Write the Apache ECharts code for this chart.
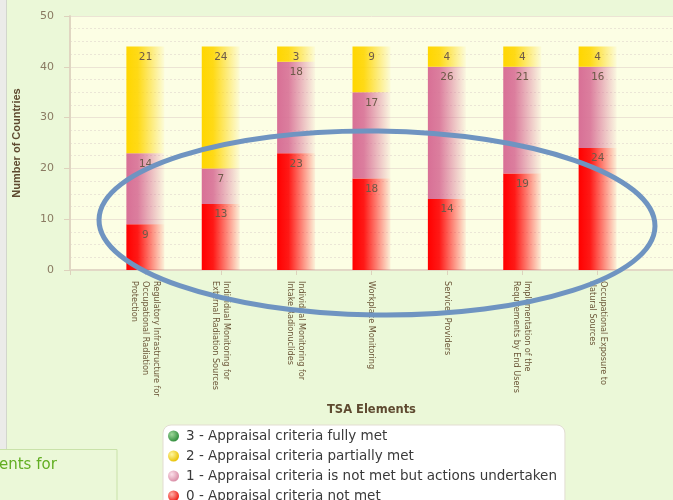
<!DOCTYPE html>
<html>
<head>
<meta charset="utf-8">
<script src="https://cdn.jsdelivr.net/npm/echarts@6/dist/echarts.min.js"></script>
<style>
  html, body { margin: 0; padding: 0; background: #ebf8d8; }
  #chart { width: 673px; height: 500px; }
</style>
</head>
<body>
<div id="chart"></div>
<script>
// TSA elements (x axis categories)
const categories = [
  'Regulatory Infrastructure for\nOccupational Radiation\nProtection',
  'Individual Monitoring for\nExternal Radiation Sources',
  'Individual Monitoring for\nIntake Radionuclides',
  'Workplace Monitoring',
  'Services Providers',
  'Implementation of the\nRequirements by End Users',
  'Occupational Exposure to\nNatural Sources'
];

// Number of countries per appraisal level
const fullyMet = [0, 0, 0, 0, 0, 0, 0];
const partiallyMet = [21, 24, 3, 9, 4, 4, 4];
const notMetActions = [14, 7, 18, 17, 26, 21, 16];
const notMet = [9, 13, 23, 18, 14, 19, 24];

const seriesNames = [
  '3 - Appraisal criteria fully met',
  '2 - Appraisal criteria partially met',
  '1 - Appraisal criteria is not met but actions undertaken',
  '0 - Appraisal criteria not met'
];

const yTicks = { min: 0, max: 50, interval: 10 };

// pad one empty slot on each side so the bars sit one step in from the plot edges
const pad = arr => [null].concat(arr, [null]);
const xCats = pad(categories).map(c => c === null ? '' : c);

function barFill(r, g, b) {
  return new echarts.graphic.LinearGradient(0, 0, 1, 0, [
    { offset: 0, color: `rgba(${r},${g},${b},1)` },
    { offset: 0.3, color: `rgba(${r},${g},${b},0.9)` },
    { offset: 1, color: `rgba(${r},${g},${b},0.05)` }
  ]);
}
function ballFill(light, dark) {
  return new echarts.graphic.RadialGradient(0.35, 0.35, 0.7, [
    { offset: 0, color: light },
    { offset: 1, color: dark }
  ]);
}

const colors = {
  green: [60, 160, 60],
  yellow: [255, 214, 0],
  pink: [216, 112, 150],
  red: [255, 0, 0]
};

const labelStyle = {
  show: true,
  position: 'insideTop',
  distance: 5,
  fontFamily: '"DejaVu Sans Mono", monospace',
  fontSize: 11,
  color: '#6e5a48',
  formatter: p => (p.value ? String(p.value) : '')
};

function makeSeries(name, values, rgb) {
  return {
    name: name,
    type: 'bar',
    stack: 'tsa',
    barWidth: 38,
    data: pad(values),
    itemStyle: { color: barFill(rgb[0], rgb[1], rgb[2]) },
    label: labelStyle,
    emphasis: { disabled: true }
  };
}

const chart = echarts.init(document.getElementById('chart'), null, { renderer: 'canvas' });

chart.setOption({
  backgroundColor: '#ebf8d8',
  animation: false,
  grid: {
    left: 70, top: 16, width: 608, bottom: 230,
    show: true, backgroundColor: '#fcfee4', borderWidth: 0
  },
  legend: {
    left: 163, top: 425, height: 110,
    orient: 'vertical',
    padding: [4, 8, 8, 5],
    itemWidth: 11, itemHeight: 11, itemGap: 6,
    backgroundColor: '#ffffff',
    borderColor: '#e2ddd2', borderWidth: 1, borderRadius: 8,
    icon: 'circle',
    selectedMode: false,
    textStyle: { fontFamily: 'DejaVu Sans', fontSize: 13.5, color: '#3a3a3a', lineHeight: 13, padding: [0, 0, 0, 2] },
    data: [
      { name: seriesNames[0], itemStyle: { color: ballFill('#9ed79a', '#2e8b3a') } },
      { name: seriesNames[1], itemStyle: { color: ballFill('#fff6a0', '#e8c000') } },
      { name: seriesNames[2], itemStyle: { color: ballFill('#fbe0ea', '#d88aa4') } },
      { name: seriesNames[3], itemStyle: { color: ballFill('#ffb0a8', '#ee1a12') } }
    ]
  },
  xAxis: {
    type: 'category',
    data: xCats,
    boundaryGap: false,
    name: 'TSA Elements',
    nameLocation: 'middle',
    nameGap: 124,
    nameTextStyle: { fontFamily: 'DejaVu Sans', fontWeight: 'bold', fontSize: 11.5, color: '#5e4a30' },
    axisLine: { lineStyle: { color: '#e2d8c6', width: 2 } },
    axisTick: { show: true, length: 5, lineStyle: { color: '#ddd2bd' } },
    axisLabel: {
      interval: 0,
      rotate: -90,
      margin: 11,
      fontFamily: '"Liberation Sans Narrow", "DejaVu Sans Condensed", sans-serif',
      fontSize: 9,
      lineHeight: 11,
      color: '#6b5638'
    },
    splitLine: { show: false }
  },
  yAxis: {
    type: 'value',
    min: yTicks.min, max: yTicks.max, interval: yTicks.interval,
    name: 'Number of Countries',
    nameLocation: 'middle',
    nameGap: 48,
    nameTextStyle: { fontFamily: 'Liberation Sans', fontWeight: 'bold', fontSize: 11, color: '#5e4a30' },
    axisLine: { show: true, lineStyle: { color: '#e0d6c2', width: 2 } },
    axisTick: { show: true, length: 6, lineStyle: { color: '#ddd2bd' } },
    axisLabel: { margin: 16, fontFamily: 'DejaVu Sans', fontSize: 11, color: '#8a7a62' },
    splitLine: { show: true, lineStyle: { color: '#ece4d4', width: 1 } },
    minorTick: { show: false, splitNumber: 4 },
    minorSplitLine: { show: true, lineStyle: { color: '#ebe6d6', type: [2, 2], width: 1 } }
  },
  series: [
    makeSeries(seriesNames[3], notMet, colors.red),
    makeSeries(seriesNames[2], notMetActions, colors.pink),
    makeSeries(seriesNames[1], partiallyMet, colors.yellow),
    makeSeries(seriesNames[0], fullyMet, colors.green)
  ],
  graphic: [
    // grey page strip on the left edge
    { type: 'rect', left: 0, top: 0, shape: { width: 6, height: 449 }, style: { fill: '#ebebe9' }, z: 1 },
    { type: 'line', shape: { x1: 6.5, y1: 0, x2: 6.5, y2: 449 }, style: { stroke: '#d2d6cc', lineWidth: 1 }, z: 1 },
    // neighbouring panel at the bottom left
    { type: 'rect', shape: { x: -2, y: 449.5, width: 119, height: 60 }, style: { fill: '#ebf8d8', stroke: '#c9e2a9', lineWidth: 1 }, z: 1 },
    { type: 'text', x: -1, y: 458, style: { text: 'ents for', font: '15px DejaVu Sans', fill: '#62ae22' }, z: 2 },
    // highlight ring around the lower part of the bars
    {
      type: 'ellipse',
      shape: { cx: 377, cy: 223, rx: 278, ry: 92 },
      rotation: -0.012, originX: 377, originY: 223,
      style: { fill: 'none', stroke: '#6f94c1', lineWidth: 5 },
      z: 100
    }
  ]
});
</script>
</body>
</html>
